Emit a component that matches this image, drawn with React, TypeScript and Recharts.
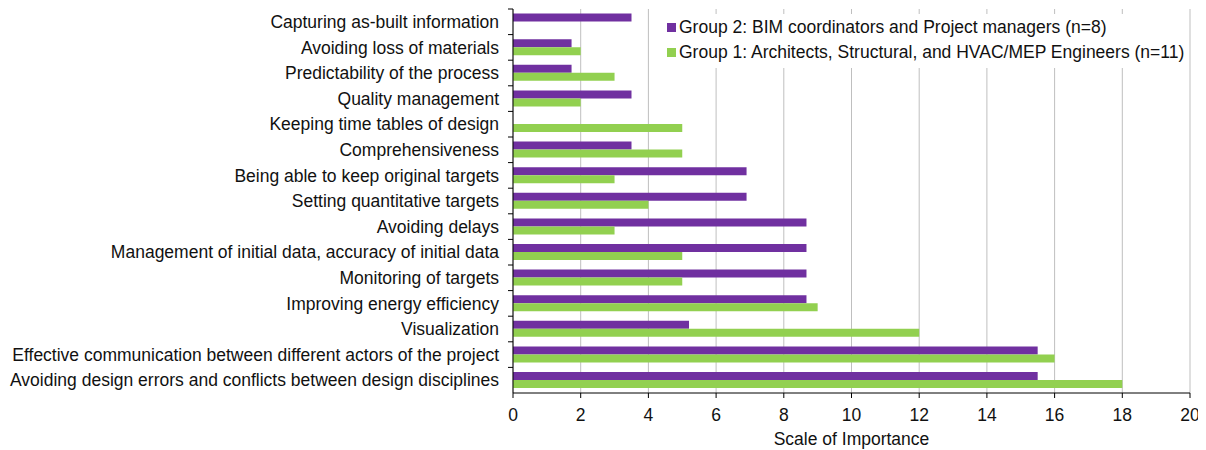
import React from "react";
import { BarChart, Bar, XAxis, YAxis, CartesianGrid, Legend } from "recharts";

const categories = [
  "Capturing as-built information",
  "Avoiding loss of materials",
  "Predictability of the process",
  "Quality management",
  "Keeping time tables of design",
  "Comprehensiveness",
  "Being able to keep original targets",
  "Setting quantitative targets",
  "Avoiding delays",
  "Management of initial data, accuracy of initial data",
  "Monitoring of targets",
  "Improving energy efficiency",
  "Visualization",
  "Effective communication between different actors of the project",
  "Avoiding design errors and conflicts between design disciplines",
];

const group2Values = [3.5, 1.73, 1.73, 3.5, 0, 3.5, 6.9, 6.9, 8.67, 8.67, 8.67, 8.67, 5.2, 15.5, 15.5];
const group1Values = [0, 2, 3, 2, 5, 5, 3, 4, 3, 5, 5, 9, 12, 16, 18];

const xTicks = [0, 2, 4, 6, 8, 10, 12, 14, 16, 18, 20];

const seriesNames = {
  g2: "Group 2: BIM coordinators and Project managers (n=8)",
  g1: "Group 1: Architects, Structural, and HVAC/MEP Engineers (n=11)",
};

const PURPLE = "#7030A0";
const GREEN = "#92D050";
const FONT = "'Liberation Sans', Arial, sans-serif";
const FS = 17.5;

const data = categories.map((c, i) => ({ name: c, g2: group2Values[i], g1: group1Values[i] }));

const YTick = (props: any) => {
  const { x, y, payload } = props;
  const half = payload && payload.offset ? payload.offset : 0;
  return (
    <g>
      <text x={x} y={y} dy="0.35em" textAnchor="end" fill="#111" fontSize={FS} fontFamily={FONT}>
        {payload.value}
      </text>
      <line x1={x + 9} x2={x + 14} y1={y - half} y2={y - half} stroke="#000" strokeWidth={1} />
    </g>
  );
};

const LegendContent = () => {
  const items = [
    { color: PURPLE, label: seriesNames.g2 },
    { color: GREEN, label: seriesNames.g1 },
  ];
  return (
    <div style={{ background: "#fff", width: 528, height: 54, paddingTop: 1, boxSizing: "border-box", fontFamily: FONT, fontSize: FS, color: "#111" }}>
      {items.map((it) => (
        <div key={it.label} style={{ height: 25, display: "flex", alignItems: "center", paddingLeft: 7, whiteSpace: "nowrap" }}>
          <span style={{ display: "inline-block", width: 9, height: 9, background: it.color, marginRight: 3 }} />
          <span>{it.label}</span>
        </div>
      ))}
    </div>
  );
};

export default function App() {
  return (
    <div style={{ width: 1198, height: 442, fontFamily: FONT }}>
      <BarChart
        width={1198}
        height={442}
        data={data}
        layout="vertical"
        margin={{ top: 1, right: 16, bottom: 0, left: 0 }}
        barCategoryGap="18%"
        barGap={0}
      >
        <CartesianGrid horizontal={false} vertical={true} stroke="#BFBFBF" strokeWidth={1} />
        <XAxis
          type="number"
          domain={[0, 20]}
          ticks={xTicks}
          interval={0}
          height={57}
          tickSize={5}
          tickMargin={11}
          stroke="#000"
          tick={{ fill: "#111", fontSize: FS, fontFamily: FONT }}
          label={{ value: "Scale of Importance", position: "insideBottom", offset: 5, fill: "#111", fontSize: FS, fontFamily: FONT }}
        />
        <XAxis xAxisId="top" orientation="top" type="number" domain={[0, 20]} height={0} tick={false} tickLine={false} stroke="#000" />
        <YAxis
          type="category"
          dataKey="name"
          width={505}
          interval={0}
          tickSize={5}
          tickMargin={9}
          tickLine={false}
          stroke="#000"
          tick={<YTick />}
        />
        <YAxis yAxisId="right" orientation="right" type="category" dataKey="name" width={0} tick={false} tickLine={false} stroke="#000" />
        <Legend
          layout="horizontal"
          verticalAlign="middle"
          align="center"
          content={<LegendContent />}
          wrapperStyle={{ position: "absolute", top: 6, left: 652, width: 528, height: 54 }}
        />
        <Bar dataKey="g2" name={seriesNames.g2} fill={PURPLE} isAnimationActive={false} />
        <Bar dataKey="g1" name={seriesNames.g1} fill={GREEN} isAnimationActive={false} />
      </BarChart>
    </div>
  );
}
